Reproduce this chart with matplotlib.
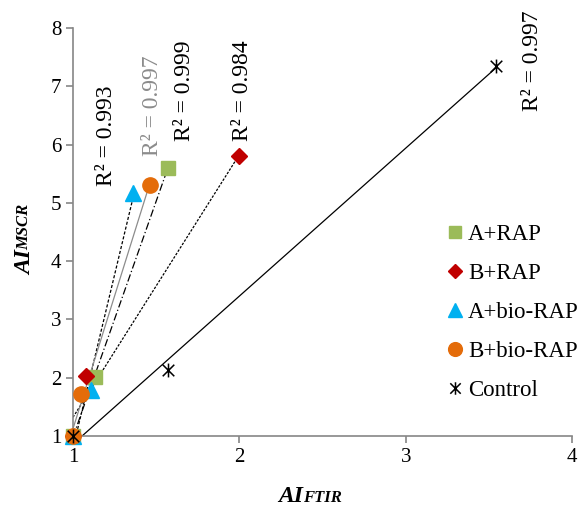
import matplotlib
matplotlib.use("Agg")
import matplotlib.pyplot as plt
import numpy as np
from matplotlib.path import Path

plt.rcParams['font.family'] = ['Liberation Serif', 'DejaVu Serif']

# AI values: FTIR (x) vs MSCR (y) for each mixture
series = ['A+RAP', 'B+RAP', 'A+bio-RAP', 'B+bio-RAP', 'Control']
x_a_rap = [1.0, 1.13, 1.57]
y_a_rap = [1.0, 2.01, 5.60]
x_b_rap = [1.0, 1.08, 2.00]
y_b_rap = [1.0, 2.03, 5.80]
x_a_bio = [1.0, 1.11, 1.36]
y_a_bio = [1.0, 1.79, 5.17]
x_b_bio = [1.0, 1.05, 1.46]
y_b_bio = [1.0, 1.72, 5.30]
x_ctrl = [1.0, 1.57, 3.54]
y_ctrl = [1.0, 2.13, 7.35]
r2_labels = ['0.999', '0.984', '0.993', '0.997', '0.997']

# Excel-style "star" marker: an x with a vertical bar
star = Path([(-1, -1), (1, 1), (-1, 1), (1, -1), (0, -1.2), (0, 1.2)],
            [Path.MOVETO, Path.LINETO, Path.MOVETO, Path.LINETO,
             Path.MOVETO, Path.LINETO])

styles = [
    dict(marker='s', color='#9BBB59', ms=10, ls=(0, (6, 2, 1, 2)), lc='black'),
    dict(marker='D', color='#C00000', ms=8, ls=(0, (2, 1.2)), lc='black'),
    dict(marker='^', color='#00B0F0', ms=11, ls=(0, (2.5, 1.5)), lc='black'),
    dict(marker='o', color='#E46C0A', ms=11, ls='-', lc='#8C8C8C'),
    dict(marker=star, color='black', ms=10, ls='-', lc='black'),
]
xs = [x_a_rap, x_b_rap, x_a_bio, x_b_bio, x_ctrl]
ys = [y_a_rap, y_b_rap, y_a_bio, y_b_bio, y_ctrl]

# where each R² label sits (data coords) and its colour
r2_pos = [(1.67, 6.92), (2.02, 6.92), (1.20, 6.15), (1.48, 6.66), (3.76, 7.43)]
r2_col = ['black', 'black', 'black', '#8C8C8C', 'black']

fig = plt.figure(figsize=(5.82, 5.09), dpi=100)
ax = fig.add_axes([0.1254, 0.1434, 0.8576, 0.8016])

for name, x, y, st, pos, col, r2 in zip(series, xs, ys, styles, r2_pos, r2_col, r2_labels):
    k, b = np.polyfit(x, y, 1)
    xl = np.array([min(x), max(x)])
    ax.plot(xl, k * xl + b, color=st['lc'], lw=0.9, ls=st['ls'], zorder=2)
    if st['marker'] is star:
        ax.plot(x, y, ls='none', marker=star, ms=st['ms'], mec='black',
                mew=1.1, label=name, zorder=3, clip_on=False)
    else:
        ax.plot(x, y, ls='none', marker=st['marker'], ms=st['ms'],
                color=st['color'], mec=st['color'], label=name, zorder=3,
                clip_on=False)
    ax.text(pos[0], pos[1], 'R² = ' + r2, rotation=90, ha='center',
            va='center', fontsize=17, color=col)

ax.set_xlim(1, 4)
ax.set_ylim(1, 8)
ax.set_xticks([1, 2, 3, 4])
ax.set_yticks(range(1, 9))
for s in ['top', 'right']:
    ax.spines[s].set_visible(False)
for s in ['left', 'bottom']:
    ax.spines[s].set_color('#868686')
    ax.spines[s].set_linewidth(1.2)
ax.tick_params(colors='#868686', labelcolor='black', labelsize=15,
               length=5, width=1.2, direction='out')

leg = ax.legend(loc='upper left', bbox_to_anchor=(0.755, 0.578),
                bbox_transform=fig.transFigure, frameon=False,
                fontsize=16.5, handlelength=0.6, handletextpad=0.25,
                labelspacing=0.78, markerscale=0.9, borderaxespad=0)

# axis titles: bold italic "AI" with smaller subscript part
xl_ai = fig.text(0.478, 0.003, 'AI', fontsize=17, fontweight='bold',
                 fontstyle='italic', ha='left', va='bottom')
ax.annotate('FTIR', xy=(1, 0.05), xycoords=xl_ai, fontsize=12,
            fontweight='bold', fontstyle='italic', ha='left', va='bottom')
yl_ai = fig.text(0.026, 0.46, 'AI', fontsize=17, fontweight='bold',
                 fontstyle='italic', rotation=90, ha='left', va='bottom')
ax.annotate('MSCR', xy=(0.05, 1), xycoords=yl_ai, fontsize=12,
            fontweight='bold', fontstyle='italic', rotation=90,
            ha='left', va='bottom')

fig.savefig('out.png', dpi=100)
